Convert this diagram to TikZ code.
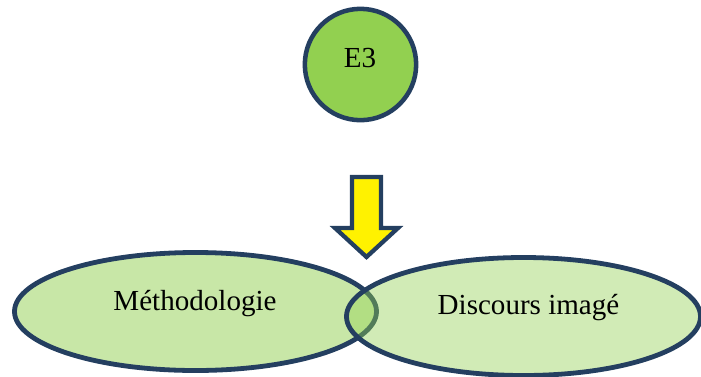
\documentclass[tikz,border=0pt]{standalone}
\usepackage{fontspec}
\setmainfont{Liberation Serif}
\usetikzlibrary{shapes.geometric}
\definecolor{navy}{HTML}{243F60}
\definecolor{leaf}{HTML}{92D050}
\tikzset{
  lbl/.style={anchor=base, inner sep=0pt, font=\fontsize{21.8}{26}\selectfont},
  blob/.style={ellipse, draw=navy, line width=3.6pt, fill=leaf, inner sep=0pt, minimum height=88.5pt},
}
\begin{document}
\begin{tikzpicture}[line cap=round,line join=round,x=0.75pt,y=-0.75pt]
  \useasboundingbox (0,0) rectangle (701,376);
  % top circle
  \node[circle, draw=navy, line width=3.4pt, fill=leaf, minimum size=83.5pt] (etrois) at (360.5,64.5) {};
  \node[lbl] (etroistxt) at (360,67) {E3};
  % block arrow
  \draw [line width=3.2pt, draw=navy, fill=yellow, line join=miter] (352,177) -- (381,177) -- (381,228) -- (398,228) -- (366.5,257) -- (335,228) -- (352,228) -- cycle;
  % the two ellipses
  \node[blob, fill opacity=0.5, minimum width=271.5pt] (methodo) at (195.5,311.5) {};
  \node[blob, fill opacity=0.42, minimum width=265.5pt] (discours) at (523.5,316.5) {};
  \node[lbl] (methodotxt) at (195,310) {Méthodologie};
  \node[lbl] (discourstxt) at (528.5,314) {Discours imagé};
\end{tikzpicture}
\end{document}
